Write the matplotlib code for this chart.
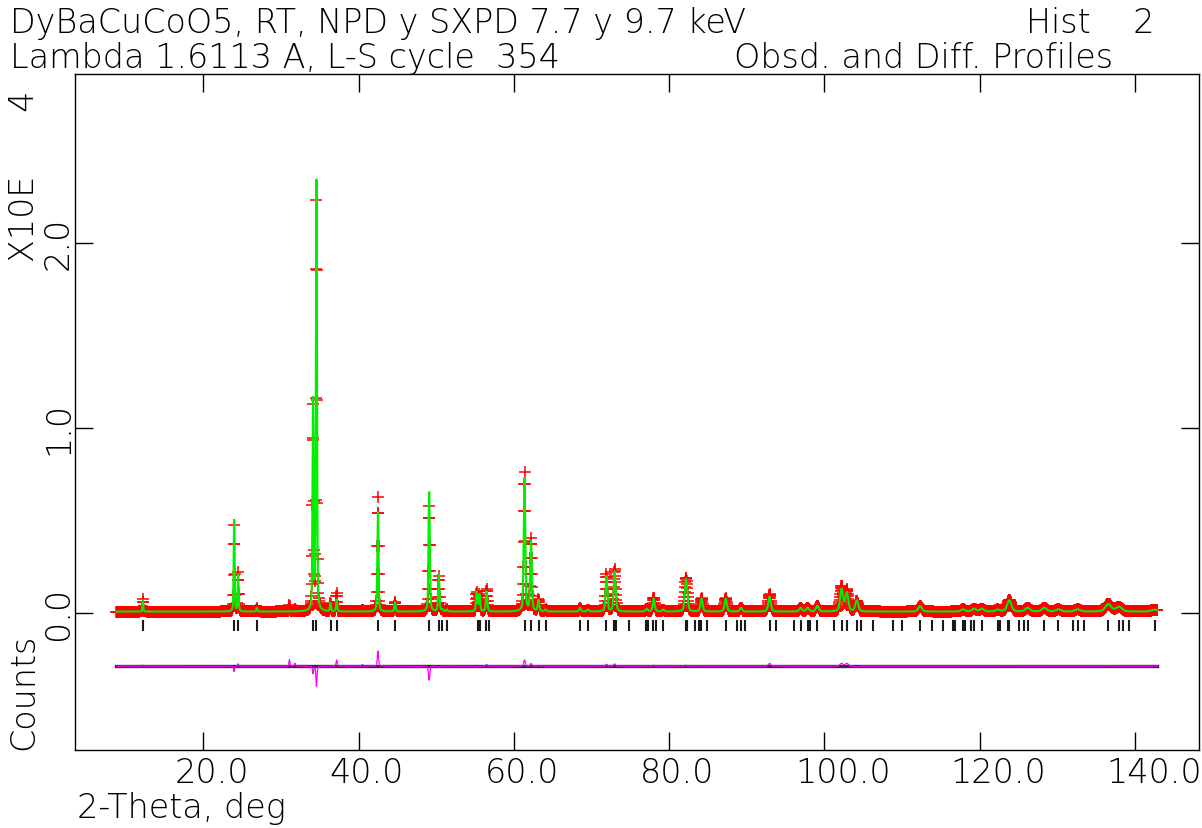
import numpy as np
import matplotlib.pyplot as plt
from matplotlib.transforms import ScaledTranslation

plt.rcParams['font.family'] = ['DejaVu Sans']
plt.rcParams['font.weight'] = 'light'

# peaks: position (2-theta), calc height, obs height (x10^4 counts)
pk_pos = [12.2, 23.95, 24.5, 26.9, 31.07, 31.8, 34.12, 34.54, 36.35, 37.16,
          40.5, 42.48, 44.68, 49.09, 50.33, 50.77, 51.36, 55.22, 55.56, 56.5,
          61.36, 62.2, 63.15, 64.1, 68.52, 69.5, 71.9, 72.94, 73.13, 77.07,
          78.0, 79.23, 82.12, 82.26, 84.14, 87.27, 89.25, 92.92, 96.93, 97.85,
          99.09, 102.21, 102.9, 104.18, 112.33, 117.84, 119.27, 120.27, 122.3, 123.81,
          126.16, 128.31, 130.11, 132.6, 136.55, 137.93, 142.52]
pk_calc = [0.062, 0.493, 0.199, 0.02, 0.0, 0.0, 1.13, 2.32, 0.045, 0.064,
           0.0, 0.536, 0.05, 0.646, 0.199, 0.01, 0.01, 0.105, 0.09, 0.11,
           0.718, 0.376, 0.06, 0.01, 0.02, 0.01, 0.19, 0.203, 0.03, 0.015,
           0.07, 0.01, 0.13, 0.08, 0.07, 0.07, 0.02, 0.08, 0.02, 0.02,
           0.03, 0.12, 0.10, 0.06, 0.03, 0.012, 0.015, 0.015, 0.01, 0.06,
           0.02, 0.02, 0.012, 0.012, 0.04, 0.025, 0.01]
pk_obs = [0.068, 0.464, 0.212, 0.02, 0.035, 0.015, 1.09, 2.212, 0.045, 0.097,
          0.01, 0.617, 0.05, 0.57, 0.19, 0.01, 0.01, 0.1, 0.09, 0.12,
          0.752, 0.39, 0.065, 0.01, 0.02, 0.01, 0.2, 0.215, 0.03, 0.015,
          0.075, 0.01, 0.135, 0.08, 0.072, 0.072, 0.02, 0.095, 0.02, 0.02,
          0.03, 0.135, 0.115, 0.055, 0.03, 0.012, 0.015, 0.015, 0.01, 0.062,
          0.02, 0.02, 0.012, 0.012, 0.042, 0.025, 0.01]

# reflection positions
refl = [12.25, 23.95, 24.49, 26.92, 34.11, 34.56, 36.41, 37.22, 42.51, 44.67,
        49.06, 50.36, 50.77, 51.36, 55.38, 55.60, 56.46, 56.82, 61.39, 62.20,
        63.19, 64.18, 68.52, 69.51, 71.91, 72.90, 73.13, 74.80, 77.07, 77.29,
        77.94, 78.31, 79.23, 82.12, 82.26, 83.37, 83.82, 84.14, 84.84, 87.27,
        88.79, 89.25, 89.71, 92.92, 93.71, 96.10, 96.93, 97.85, 98.12, 99.09,
        101.20, 102.21, 102.90, 104.18, 104.74, 106.21, 108.88, 109.93, 112.33, 113.80,
        115.31, 116.55, 116.87, 117.84, 118.07, 118.90, 119.27, 120.27, 122.30, 122.67,
        123.59, 123.81, 125.10, 125.65, 126.16, 128.31, 130.11, 132.04, 132.60, 133.46,
        136.55, 137.93, 138.48, 139.21, 142.52]

tt_start, tt_end, step = 8.8, 142.92, 0.04
bkg = 0.005
diff_off = -0.29

tt = np.arange(tt_start, tt_end, step)


def profile(heights):
    y = np.full_like(tt, bkg)
    for p, h in zip(pk_pos, heights):
        c = tt_start + round((p - tt_start) / step) * step
        t = np.tan(np.radians(c / 2))
        H = np.sqrt(0.12 * t**2 + 0.015)
        u = (tt - c) / H
        y += h * (0.4 / (1 + 4 * u**2) + 0.6 * np.exp(-4 * np.log(2) * u**2))
    return y


ycalc = profile(pk_calc)
yobs = profile(pk_obs)
ydiff = yobs - ycalc + diff_off

fig = plt.figure(figsize=(12.02, 8.29), dpi=100)
ax = fig.add_axes([75 / 1202, 1 - 750.5 / 829, 1124 / 1202, 675.5 / 829])

ax.plot(tt, yobs, '+', color='#ff0000', ms=8, mew=1.1, ls='none')
ax.plot(tt, ycalc, color='#00ee00', lw=1.5)
ax.vlines(refl, -0.10, -0.04, color='#1a1a1a', lw=1.5)
ax.plot([tt[0], tt[-1]], [diff_off, diff_off], color='#4a1a4a', lw=2.4)
ax.plot(tt, ydiff, color='#ff00ff', lw=0.9)

ax.set_xlim(3.46, 148.24)
ax.set_ylim(-0.7405, 2.911)

ax.set_xticks([20, 40, 60, 80, 100, 120, 140])
ax.set_xticklabels(['20.0', '40.0', '60.0', '80.0', '100.0', '120.0', '140.0'])
ax.set_yticks([0, 1, 2])
ax.set_yticklabels(['0.0', '1.0', '2.0'])
ax.tick_params(direction='in', length=13, width=1.0, top=True, right=True,
               labelsize=24, colors='black')
ax.tick_params(axis='x', pad=5)
ax.tick_params(axis='y', pad=0)
for lab in ax.get_xticklabels():
    lab.set_ha('left')
    lab.set_transform(lab.get_transform() + ScaledTranslation(-0.29, 0, fig.dpi_scale_trans))
for lab in ax.get_yticklabels():
    lab.set_rotation(90)
    lab.set_va('center')
for s in ax.spines.values():
    s.set_linewidth(1.0)

fs = 24
fig.text(10 / 1202, 1 - 33 / 829, 'DyBaCuCoO5, RT, NPD y SXPD 7.7 y 9.7 keV', fontsize=fs, va='baseline')
fig.text(1155 / 1202, 1 - 33 / 829, 'Hist    2', fontsize=fs, va='baseline', ha='right')
fig.text(10 / 1202, 1 - 68 / 829, 'Lambda 1.6113 A, L-S cycle  354', fontsize=fs, va='baseline')
fig.text(1113 / 1202, 1 - 68 / 829, 'Obsd. and Diff. Profiles', fontsize=fs, va='baseline', ha='right')
fig.text(77 / 1202, 1 - 818 / 829, '2-Theta, deg', fontsize=fs, va='baseline')
fig.text(24 / 1202, 1 - 262 / 829, 'X10E      4', fontsize=fs, rotation=90, ha='center', va='bottom')
fig.text(24 / 1202, 1 - 750 / 829, 'Counts', fontsize=fs, rotation=90, ha='center', va='bottom')

fig.savefig('out.png', dpi=100)
